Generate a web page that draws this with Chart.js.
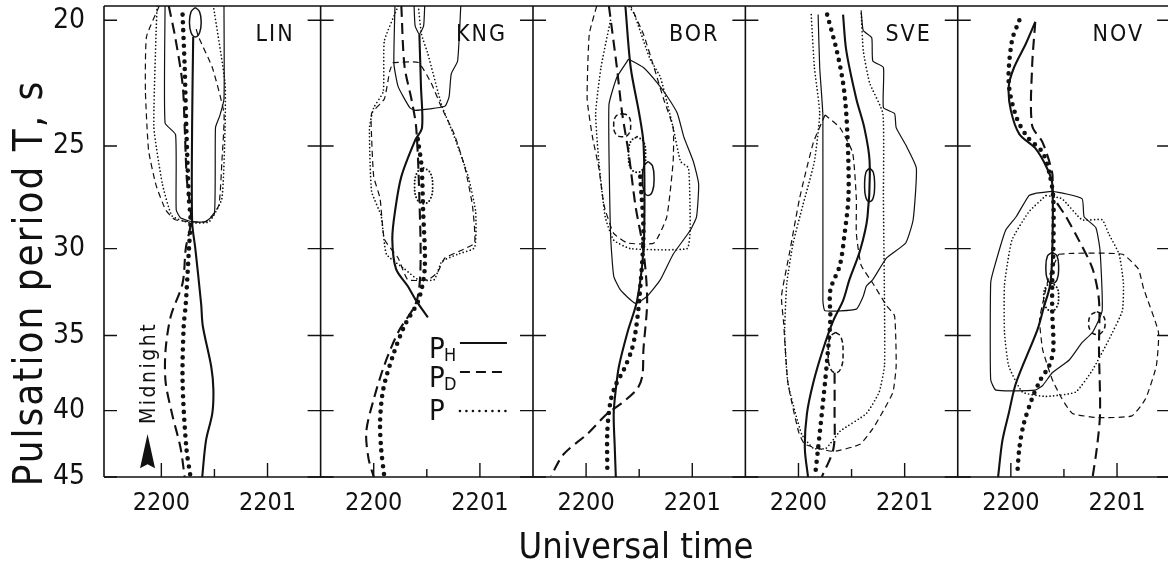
<!DOCTYPE html>
<html>
<head>
<meta charset="utf-8">
<script src="https://cdn.jsdelivr.net/npm/chart.js@4.4.0/dist/chart.umd.min.js"></script>
<style>
  html, body { margin: 0; padding: 0; background: #fff; overflow: hidden; }
  canvas { display: block; }
</style>
</head>
<body>
<canvas id="myChart" width="1168" height="570"></canvas>
<script>
const FONT = "'Liberation Sans Narrow', 'DejaVu Sans Condensed', 'DejaVu Sans', sans-serif";
const INK = '#111';

// stations and axes
const stations = ['LIN', 'KNG', 'BOR', 'SVE', 'NOV'];
const yTicks = [20, 25, 30, 35, 40, 45];
const xTickLabels = ['2200', '2201'];

// each point: [minutes after 22:00 UT, period T in s]
// LIN
const linPH = [[0.3,20.6],[0.29,24],[0.29,28.6],[0.32,30],[0.375,33.1],[0.39,34.4],[0.47,37],[0.49,38.5],[0.48,40.2],[0.42,42.2],[0.385,45]];
const linPD = [[0.07,19.5],[0.13,20.6],[0.2,22.4],[0.22,24.2],[0.24,26.5],[0.28,28.5],[0.23,30],[0.2,31.9],[0.09,33.8],[0.04,35.9],[0.04,38],[0.1,40.2],[0.18,42.7],[0.22,45]];
const linP = [[0.2,19.8],[0.22,21.75],[0.235,24.2],[0.26,27.5],[0.275,28.5],[0.26,30],[0.23,33.1],[0.21,34.5],[0.2,38],[0.235,42.7],[0.275,45]];
const linContH = [[0.035,19.5],[0.035,24],[0.134,24.5],[0.14,28],[0.18,28.4],[0.29,28.6],[0.41,28.6],[0.5,28.2],[0.51,24.2],[0.55,23.7],[0.59,23],[0.59,19.5]];
const linContD = [[-0.02,19.5],[-0.14,20.6],[-0.15,22.7],[-0.12,25.2],[-0.05,26.8],[0.04,28],[0.13,28.5],[0.42,28.6],[0.54,27.8],[0.57,25.7],[0.59,23.6],[0.48,21.75],[0.35,20.6],[0.32,20.2]];
const linContP = [[-0.04,19.5],[-0.05,20.5],[-0.07,24.2],[0.01,26.75],[0.1,28.3],[0.26,28.65],[0.45,28.6],[0.57,27.45],[0.6,24.2],[0.6,22.35],[0.49,19.5]];
const linPeakH = [[0.32,19.55],[0.36,19.7],[0.375,20.07],[0.36,20.45],[0.32,20.6],[0.28,20.45],[0.265,20.07],[0.28,19.7],[0.32,19.55]];

// KNG
const kngPH = [[0.43,20.5],[0.445,22.5],[0.455,24.2],[0.39,24.75],[0.26,26.4],[0.2,28.1],[0.175,29.5],[0.21,31.1],[0.32,32.06],[0.4,32.9],[0.51,33.9]];
const kngPD = [[0.26,19.5],[0.29,21.7],[0.355,23],[0.4,24.2],[0.43,27.45],[0.44,31.1],[0.4,33],[0.23,34.8],[0.1,36.9],[0,39.2],[-0.07,41.5],[-0.05,43.5],[0,45]];
const kngP = [[0.415,24.7],[0.45,25.9],[0.465,28],[0.48,31.1],[0.42,32.9],[0.29,34.4],[0.18,36.3],[0.09,38.5],[0.06,40.75],[0.07,42.8],[0.1,45]];
const kngContH = [[0.2,19.5],[0.19,21.6],[0.23,22.5],[0.34,23.36],[0.39,23.47],[0.67,23.3],[0.71,22.9],[0.73,22],[0.79,21.5],[0.82,19.5]];
const kngLoopH = [[0.38,19.5],[0.39,20.2],[0.43,20.5],[0.47,20.2],[0.48,19.5]];
const kngContD = [[0.18,21.56],[0.42,21.56],[0.54,22.35],[0.64,23.36],[0.76,24.5],[0.86,26],[0.93,27.8],[0.95,29.7],[0.82,30.1],[0.67,30.5],[0.6,31.3],[0.51,31.7],[0.32,31.7],[0.23,30.5],[0.1,29.5],[0.06,27.45],[0,26.4],[-0.02,24.6],[-0.02,23.6],[0.1,23],[0.15,21.9],[0.18,21.56]];
const kngContP = [[0.23,19.5],[0.1,20.75],[0.09,22.7],[0,23.36],[-0.04,24.2],[-0.02,27.1],[0.07,28.3],[0.12,30.3],[0.29,31.1],[0.42,31.7],[0.57,31.7],[0.64,30.7],[0.79,30.3],[0.95,29.95],[0.96,28.1],[0.89,26.4],[0.76,24.6],[0.64,23.25],[0.51,21.23],[0.45,20.5],[0.42,19.5]];
const kngPeakP = [[0.47,26],[0.53,26.2],[0.555,26.85],[0.53,27.5],[0.47,27.7],[0.41,27.5],[0.385,26.85],[0.41,26.2],[0.47,26]];

// BOR
const borPH = [[0.37,19.5],[0.42,21.75],[0.5,23.6],[0.54,24.85],[0.55,27.45],[0.54,30.1],[0.48,32.9],[0.39,34.8],[0.31,36.95],[0.28,38.5],[0.26,40.2],[0.27,42.7],[0.28,45]];
const borPD = [[0.215,19.5],[0.29,21.75],[0.34,23.6],[0.4,25.3],[0.465,27.8],[0.54,30.1],[0.575,32.9],[0.54,35.9],[0.53,37.6],[0.48,38.5],[0.33,39.5],[0.2,40.2],[0.01,41.7],[-0.21,43.2],[-0.33,44.9]];
const borP = [[0.51,26.4],[0.54,29.2],[0.5,32.9],[0.465,34.8],[0.43,35.9],[0.355,37.2],[0.28,38.2],[0.23,39.35],[0.2,41.5],[0.2,44.6]];
const borContH = [[0.4,21.43],[0.54,21.75],[0.67,22.35],[0.76,22.87],[0.86,23.6],[0.92,24.6],[1.01,25.7],[1.06,26.75],[1.04,28.35],[0.98,29.05],[0.82,30.3],[0.7,31.7],[0.575,32.65],[0.465,33.06],[0.325,32.3],[0.26,31.5],[0.23,29.2],[0.215,23.25],[0.29,22.13],[0.4,21.43]];
const borContD = [[0.1,19.5],[0.03,20.5],[0.01,23],[0.06,24.6],[0.12,26],[0.17,27.8],[0.26,29.2],[0.39,29.7],[0.64,29.7],[0.76,28.35],[0.82,25.7],[0.82,24.2],[0.73,23],[0.64,21.75],[0.54,20.5],[0.42,19.5]];
const borContP = [[0.23,20],[0.14,21.75],[0.09,23.6],[0.12,25.7],[0.18,28.35],[0.26,29.55],[0.42,30],[0.95,30],[0.98,29.05],[0.965,26],[0.89,25.7],[0.82,24.2],[0.7,22.13],[0.6,21.4],[0.45,19.75],[0.4,19.5]];
const borPeakD = [[0.34,23.6],[0.4,23.72],[0.42,24.1],[0.4,24.48],[0.34,24.6],[0.28,24.48],[0.26,24.1],[0.28,23.72],[0.34,23.6]];
const borPeakP = [[0.48,24.6],[0.54,24.8],[0.56,25.4],[0.54,26],[0.48,26.2],[0.42,26],[0.4,25.4],[0.42,24.8],[0.48,24.6]];
const borPeakH = [[0.584,25.7],[0.625,25.9],[0.64,26.5],[0.625,27.1],[0.584,27.3],[0.545,27.1],[0.53,26.5],[0.545,25.9],[0.584,25.7]];

// SVE
const svePH = [[0.42,19.8],[0.45,21.1],[0.545,23],[0.62,24.2],[0.67,25.7],[0.65,28.35],[0.58,30.1],[0.48,31.7],[0.42,32.9],[0.33,34.06],[0.23,35.9],[0.14,38.05],[0.08,40.2],[0.06,42.76],[0.09,45]];
const svePD = [[0.34,37.4],[0.34,40],[0.33,42.76],[0.22,45]];
const sveP = [[0.27,19.8],[0.36,21.1],[0.42,22.35],[0.45,23.6],[0.47,25.7],[0.47,27.45],[0.435,29.2],[0.39,30.9],[0.3,32.3],[0.3,34.06],[0.27,36.56],[0.25,38.05],[0.22,40.2],[0.185,42.76],[0.155,45]];
const sveContH = [[0.185,19.8],[0.2,21.75],[0.23,23.7],[0.23,32.9],[0.25,33.5],[0.545,33.4],[0.61,32.65],[0.64,32.06],[0.7,31.7],[0.83,30.5],[1.01,29.7],[1.08,28.5],[1.11,26],[1.01,24.95],[0.92,24.2],[0.905,23.6],[0.8,23.36],[0.8,21.75],[0.7,21.5],[0.69,20.63],[0.61,20.37],[0.59,19.65]];
const sveContD = [[0.25,23.66],[0.14,24.85],[0.01,27.45],[-0.08,30.1],[-0.16,32.65],[-0.14,34.2],[-0.1,38.05],[0,41.5],[0.06,42.46],[0.33,43],[0.58,42.46],[0.7,41.3],[0.8,40],[0.89,38.7],[0.92,36.95],[0.905,33.8],[0.83,33.2],[0.7,31.9],[0.59,30.9],[0.545,29.2],[0.545,27.45],[0.51,25.3],[0.39,24.2],[0.25,23.66]];
const sveContP = [[0.12,19.8],[0.15,21.75],[0.2,23.6],[0.15,25.7],[0.04,27.8],[-0.05,29.7],[-0.11,31.9],[-0.13,34.8],[-0.1,38.05],[0.03,41.7],[0.14,42.76],[0.26,42.76],[0.39,41.5],[0.64,40.2],[0.76,38.7],[0.81,36.95],[0.81,33.06],[0.8,27.45],[0.795,23.6],[0.67,22.35],[0.61,21.1],[0.59,19.65]];
const svePeakH = [[0.67,26],[0.705,26.2],[0.717,26.8],[0.705,27.4],[0.67,27.6],[0.635,27.4],[0.623,26.8],[0.635,26.2],[0.67,26]];
const svePeakD = [[0.35,34.8],[0.4,35.1],[0.42,36.1],[0.4,37.1],[0.35,37.4],[0.3,37.1],[0.28,36.1],[0.3,35.1],[0.35,34.8]];

// NOV
const novPH = [[0.23,20.06],[0.14,20.86],[0.03,21.75],[-0.02,22.5],[0,23.47],[0.08,24.48],[0.23,25.1],[0.34,26],[0.39,26.75],[0.39,30.2],[0.37,32],[0.31,33.3],[0.25,34.65],[0.05,38.05],[-0.02,40.2],[-0.08,42.2],[-0.12,45]];
const novPD = [[0.23,20.06],[0.2,21.75],[0.2,24.1],[0.3,24.85],[0.39,26.24],[0.4,27.3],[0.52,28.35],[0.64,29.55],[0.77,31.1],[0.83,32.9],[0.83,35.9],[0.84,40.2],[0.81,42.76],[0.77,45]];
const novP = [[0.08,20],[0.01,20.75],[-0.02,22.35],[0.05,23.73],[0.155,24.6],[0.3,25.3],[0.37,26.4],[0.4,27.45],[0.4,30.1],[0.39,31.9],[0.39,33.6],[0.4,35.9],[0.36,36.95],[0.28,37.85],[0.2,39.15],[0.12,41],[0.08,42.76],[0.06,44.85]];
const novContH = [[0.23,27.2],[0.39,27.1],[0.67,27.45],[0.69,28.35],[0.8,28.9],[0.84,30.1],[0.86,33.5],[0.77,34.8],[0.67,35.45],[0.55,36.56],[0.39,37.4],[0.3,38.25],[0.23,38.57],[-0.14,38.57],[-0.19,37.85],[-0.19,31.9],[-0.16,31.1],[-0.05,29.05],[0.05,28.35],[0.17,27.3],[0.23,27.2]];
const novContP = [[0.33,27.3],[0.17,28.1],[0.01,29.55],[-0.06,32],[-0.06,34.8],[-0.02,36.95],[0.11,38.7],[0.33,39],[0.61,38.7],[0.77,37.2],[0.92,35.3],[1.05,33.5],[1.06,31.9],[1.02,30.3],[0.92,29.2],[0.86,28.5],[0.67,28.5],[0.48,27.45],[0.33,27.3]];
const novContD = [[0.45,30.3],[0.58,30.25],[1.05,30.3],[1.2,31.1],[1.25,32.2],[1.39,34.8],[1.37,36.95],[1.27,39.15],[1.14,40.37],[0.83,40.5],[0.58,40.2],[0.48,39.15],[0.39,37.85],[0.3,35.9],[0.27,34.06],[0.3,33.06],[0.36,31.5],[0.45,30.3]];
const novPeakH = [[0.39,30.2],[0.435,30.4],[0.45,31.05],[0.435,31.7],[0.39,31.9],[0.345,31.7],[0.33,31.05],[0.345,30.4],[0.39,30.2]];
const novPeakP = [[0.38,31.9],[0.43,32.1],[0.45,32.7],[0.43,33.3],[0.38,33.5],[0.33,33.3],[0.31,32.7],[0.33,32.1],[0.38,31.9]];
const novPeakD = [[0.81,33.55],[0.865,33.75],[0.888,34.25],[0.865,34.75],[0.81,34.95],[0.755,34.75],[0.732,34.25],[0.755,33.75],[0.81,33.55]];

// line looks
const looks = {
  H:  { borderWidth: 2.1, borderDash: [], tension: 0.3 },
  D:  { borderWidth: 2.1, borderDash: [11, 6], tension: 0.3 },
  P:  { borderWidth: 4.6, borderDash: [0, 7.8], borderCapStyle: 'round', tension: 0.3 },
  cH: { borderWidth: 1.2, borderDash: [], tension: 0.15 },
  cD: { borderWidth: 1.2, borderDash: [6, 4], tension: 0.15 },
  cP: { borderWidth: 1.7, borderDash: [0, 3.6], borderCapStyle: 'round', tension: 0.15 },
  eH: { borderWidth: 1.5, borderDash: [], tension: 0.45 },
  eD: { borderWidth: 1.5, borderDash: [5, 3], tension: 0.45 },
  eP: { borderWidth: 2, borderDash: [0, 3.4], borderCapStyle: 'round', tension: 0.45 }
};

const panels = [
  [[linContH,'cH'],[linContD,'cD'],[linContP,'cP'],[linPeakH,'eH'],[linPH,'H'],[linPD,'D'],[linP,'P']],
  [[kngContH,'cH'],[kngLoopH,'cH'],[kngContD,'cD'],[kngContP,'cP'],[kngPeakP,'eP'],[kngPH,'H'],[kngPD,'D'],[kngP,'P']],
  [[borContH,'cH'],[borContD,'cD'],[borContP,'cP'],[borPeakD,'eD'],[borPeakP,'eP'],[borPeakH,'eH'],[borPH,'H'],[borPD,'D'],[borP,'P']],
  [[sveContH,'cH'],[sveContD,'cD'],[sveContP,'cP'],[svePeakH,'eH'],[svePeakD,'eD'],[svePH,'H'],[svePD,'D'],[sveP,'P']],
  [[novContH,'cH'],[novContP,'cP'],[novContD,'cD'],[novPeakH,'eH'],[novPeakP,'eP'],[novPeakD,'eD'],[novPH,'H'],[novPD,'D'],[novP,'P']]
];

// every panel spans 2 minutes on one shared x axis
const datasets = [];
panels.forEach((lines, i) => {
  lines.forEach(([pts, look]) => {
    datasets.push(Object.assign({
      data: pts.map(([m, t]) => ({ x: 2 * i + m, y: t })),
      showLine: true,
      pointRadius: 0,
      borderColor: INK,
      borderJoinStyle: 'round',
      fill: false
    }, looks[look]));
  });
});

function text(ctx, str, x, y, size, opts = {}) {
  ctx.save();
  ctx.font = size + 'px ' + FONT;
  ctx.fillStyle = INK;
  ctx.textAlign = opts.align || 'left';
  ctx.textBaseline = 'alphabetic';
  ctx.letterSpacing = (opts.spacing || 0) + 'px';
  ctx.translate(x, y);
  if (opts.rotate) ctx.rotate(opts.rotate);
  ctx.fillText(str, 0, 0);
  ctx.restore();
}

const framePlugin = {
  id: 'frame',
  beforeDatasetsDraw(chart) {
    const { ctx, chartArea: a, scales: { x, y } } = chart;
    ctx.save();
    ctx.strokeStyle = INK;
    ctx.lineWidth = 1.6;
    ctx.beginPath();
    ctx.moveTo(a.left, a.top); ctx.lineTo(a.right + 2, a.top);
    ctx.moveTo(a.left, a.top); ctx.lineTo(a.left, a.bottom);
    ctx.moveTo(a.left, a.bottom); ctx.lineTo(a.right + 2, a.bottom);
    stations.forEach((s, i) => {
      const bx = x.getPixelForValue(2 * i + 1.5);
      ctx.moveTo(bx, a.top); ctx.lineTo(bx, a.bottom);
    });
    ctx.stroke();

    ctx.lineWidth = 1.4;
    ctx.beginPath();
    yTicks.forEach(v => {
      const py = y.getPixelForValue(v);
      ctx.moveTo(a.left, py); ctx.lineTo(a.left + 13, py);
      stations.forEach((s, i) => {
        const bx = x.getPixelForValue(2 * i + 1.5);
        ctx.moveTo(bx - 13, py); ctx.lineTo(bx + 13, py);
      });
    });
    stations.forEach((s, i) => {
      [0, 0.5, 1].forEach(m => {
        const px = x.getPixelForValue(2 * i + m);
        ctx.moveTo(px, a.bottom); ctx.lineTo(px, a.bottom - (m === 0.5 ? 8 : 14));
      });
    });
    ctx.stroke();
    ctx.restore();
  },
  afterDraw(chart) {
    const { ctx, chartArea: a, scales: { x, y } } = chart;

    // station names
    stations.forEach((s, i) => {
      const bx = x.getPixelForValue(2 * i + 1.5);
      text(ctx, s, bx - 26, a.top + 35, 23, { align: 'right', spacing: 2 });
    });

    // y title
    text(ctx, 'Pulsation period T, s', 42, 283, 40, { align: 'center', rotate: -Math.PI / 2, spacing: 2 });

    // legend in KNG panel
    const lx = x.getPixelForValue(2.52);
    const rows = [[a.top + 352, 'H', []], [a.top + 381, 'D', [10, 6]], [a.top + 414, '', [0, 6.5]]];
    rows.forEach(([by, sub, dash], k) => {
      text(ctx, 'P', lx, by, 29);
      if (sub) text(ctx, sub, lx + 15, by + 3, 18);
      ctx.save();
      ctx.strokeStyle = INK;
      ctx.lineWidth = k === 2 ? 2.6 : 1.8;
      ctx.lineCap = k === 2 ? 'round' : 'butt';
      ctx.setLineDash(dash);
      ctx.beginPath();
      ctx.moveTo(lx + 31, by - 15 - (k === 2 ? -6 : 0));
      ctx.lineTo(lx + 78, by - 15 - (k === 2 ? -6 : 0));
      ctx.stroke();
      ctx.restore();
    });

    // midnight marker in LIN panel
    const mx = x.getPixelForValue(-0.13);
    text(ctx, 'Midnight', mx + 7, a.top + 367, 21, { align: 'center', rotate: -Math.PI / 2, spacing: 2.5 });
    const tipY = y.getPixelForValue(41.7), baseY = y.getPixelForValue(44.3);
    ctx.save();
    ctx.fillStyle = INK;
    ctx.beginPath();
    ctx.moveTo(mx, tipY);
    ctx.lineTo(mx + 7.5, baseY);
    ctx.lineTo(mx, baseY - 4);
    ctx.lineTo(mx - 7.5, baseY);
    ctx.closePath();
    ctx.fill();
    ctx.restore();
  }
};

new Chart(document.getElementById('myChart').getContext('2d'), {
  type: 'scatter',
  data: { datasets },
  options: {
    responsive: false,
    animation: false,
    events: [],
    layout: { padding: { top: 6, left: 0, right: 0, bottom: 0 } },
    plugins: { legend: { display: false }, tooltip: { enabled: false } },
    scales: {
      x: {
        type: 'linear',
        min: -0.54,
        max: 9.48,
        grid: { display: false },
        border: { display: false },
        afterBuildTicks: (scale) => {
          scale.ticks = [0, 1, 2, 3, 4, 5, 6, 7, 8, 9].map(v => ({ value: v }));
        },
        afterFit: (scale) => {
          scale.height = 93;
          scale.paddingLeft = 0;
          scale.paddingRight = 0;
        },
        ticks: {
          autoSkip: false,
          maxRotation: 0,
          minRotation: 0,
          padding: 3,
          color: INK,
          font: { family: FONT, size: 25 },
          callback: (v) => xTickLabels[((v % 2) + 2) % 2]
        },
        title: {
          display: true,
          text: 'Universal time',
          color: INK,
          font: { family: FONT, size: 36 },
          padding: { top: 0, bottom: 0 }
        }
      },
      y: {
        type: 'logarithmic',
        reverse: true,
        min: 19.5,
        max: 45,
        grid: { display: false },
        border: { display: false },
        afterBuildTicks: (scale) => {
          scale.ticks = yTicks.map(v => ({ value: v }));
        },
        afterFit: (scale) => {
          scale.width = 104;
          scale.paddingTop = 0;
          scale.paddingBottom = 0;
        },
        ticks: {
          padding: 11,
          color: INK,
          font: { family: FONT, size: 28 },
          callback: (v) => String(v)
        }
      }
    }
  },
  plugins: [framePlugin]
});
</script>
</body>
</html>
